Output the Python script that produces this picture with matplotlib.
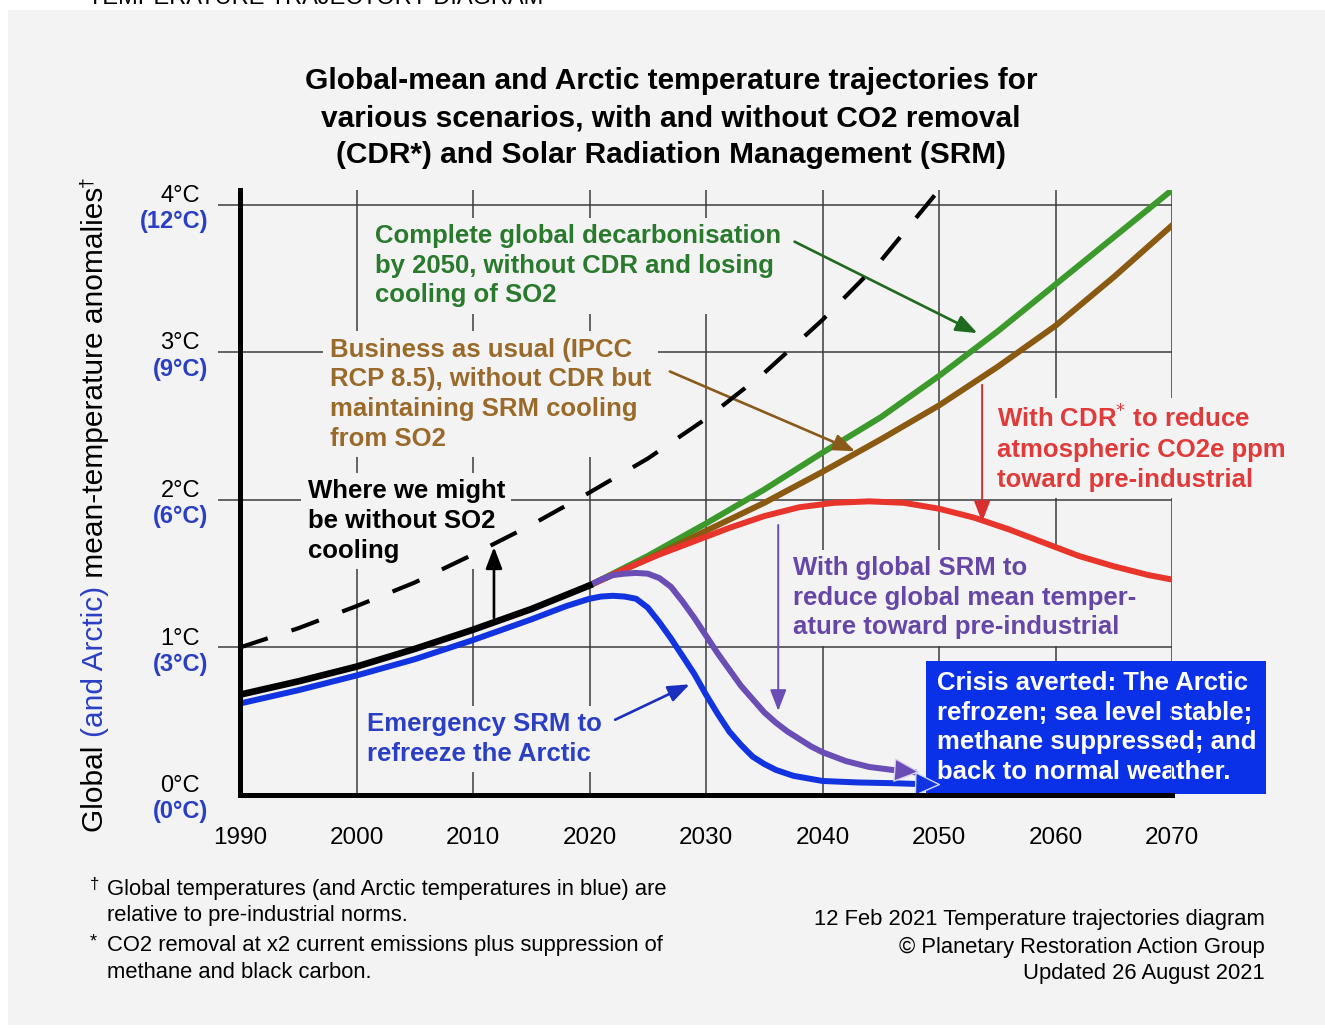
import matplotlib
matplotlib.use('Agg')
import matplotlib.pyplot as plt
from matplotlib.patches import Rectangle

plt.rcParams['font.family'] = ['Liberation Sans', 'DejaVu Sans']

# Data
hist_years = [1990, 1995, 2000, 2005, 2010, 2015, 2020]
hist_temp = [0.68, 0.77, 0.87, 0.99, 1.12, 1.26, 1.42]

noso2_years = [1990, 1995, 2000, 2005, 2010, 2015, 2020, 2025, 2030, 2035, 2040, 2045, 2050]
noso2_temp = [1.0, 1.13, 1.28, 1.44, 1.63, 1.83, 2.05, 2.28, 2.55, 2.86, 3.22, 3.62, 4.1]

proj_years = [2020, 2025, 2030, 2035, 2040, 2045, 2050, 2055, 2060, 2065, 2070]
decarb_temp = [1.42, 1.62, 1.84, 2.07, 2.32, 2.56, 2.84, 3.14, 3.46, 3.78, 4.1]
bau_temp = [1.42, 1.6, 1.79, 1.98, 2.19, 2.41, 2.64, 2.9, 3.18, 3.51, 3.86]

cdr_years = [2020, 2023, 2026, 2029, 2032, 2035, 2038, 2041, 2044, 2047, 2050,
             2053, 2056, 2059, 2062, 2065, 2068, 2070]
cdr_temp = [1.42, 1.53, 1.63, 1.72, 1.81, 1.89, 1.95, 1.98, 1.99, 1.98, 1.94,
            1.88, 1.80, 1.71, 1.62, 1.55, 1.49, 1.46]

srm_years = [2020, 2021, 2022, 2023, 2024, 2025, 2026, 2027, 2028, 2029, 2030,
             2031, 2032, 2033, 2034, 2035, 2036, 2037, 2038, 2039, 2040, 2042,
             2044, 2046, 2047.8]
srm_temp = [1.42, 1.46, 1.49, 1.50, 1.505, 1.50, 1.47, 1.41, 1.31, 1.20, 1.08,
            0.96, 0.85, 0.74, 0.65, 0.56, 0.49, 0.43, 0.38, 0.33, 0.29, 0.23,
            0.19, 0.17, 0.155]

arctic_years = [1990, 1995, 2000, 2005, 2010, 2015, 2018, 2020, 2021, 2022, 2023,
                2024, 2025, 2026, 2027, 2028, 2029, 2030, 2031, 2032, 2033, 2034,
                2035, 2036, 2037.5, 2040, 2043, 2046, 2048, 2049.6]
arctic_temp = [0.62, 0.71, 0.81, 0.92, 1.05, 1.19, 1.28, 1.33, 1.345, 1.35, 1.345,
               1.33, 1.27, 1.17, 1.06, 0.94, 0.82, 0.68, 0.55, 0.43, 0.34, 0.26,
               0.21, 0.17, 0.13, 0.095, 0.085, 0.08, 0.075, 0.07]

x_ticks = [1990, 2000, 2010, 2020, 2030, 2040, 2050, 2060, 2070]
y_ticks = [0, 1, 2, 3, 4]
global_labels = ['0°C', '1°C', '2°C', '3°C', '4°C']
arctic_labels = ['(0°C)', '(3°C)', '(6°C)', '(9°C)', '(12°C)']

BG = '#f3f3f3'
BLUE_T = '#2a3fc4'

fig = plt.figure(figsize=(13.25, 10.28), dpi=100)
fig.patch.set_facecolor('white')
fig.patches.append(Rectangle((8 / 1325, 3 / 1028), 1317 / 1325, 1015 / 1028,
                             transform=fig.transFigure, facecolor=BG,
                             edgecolor='none', zorder=-10))

# header cut off at the top of the image
fig.text(88 / 1325, 1 - 4 / 1028, 'TEMPERATURE TRAJECTORY DIAGRAM', ha='left',
         va='baseline', fontsize=17, color='black')

ax = fig.add_axes([240 / 1325, 233 / 1028, 932 / 1325, 605 / 1028])
ax.set_facecolor('none')
ax.set_xlim(1990, 2070)
ax.set_ylim(0, 4.1)

for s in ['top', 'right']:
    ax.spines[s].set_visible(False)
for s in ['left', 'bottom']:
    ax.spines[s].set_linewidth(3.6)
    ax.spines[s].set_zorder(6)

ax.set_xticks(x_ticks)
ax.set_xticklabels([str(y) for y in x_ticks], fontsize=17.5)
ax.tick_params(axis='x', length=0, pad=23)
ax.set_yticks([])

# grid
ax.hlines(y_ticks[1:], -0.024, 1, transform=ax.get_yaxis_transform(),
          colors='#3c3c3c', lw=1.1, clip_on=False, zorder=1)
ax.vlines(x_ticks[1:-1], 0, 4.1, colors='#3c3c3c', lw=1.1, zorder=1)
ax.vlines([x_ticks[-1]], 0, 4.1, colors='#3c3c3c', lw=1.1, zorder=2.6)

# y labels
for v, g, a in zip(y_ticks, global_labels, arctic_labels):
    ax.text(-0.043, v + 0.06, g, transform=ax.get_yaxis_transform(), ha='right',
            va='center', fontsize=17)
    ax.text(-0.034, v - 0.115, a, transform=ax.get_yaxis_transform(), ha='right',
            va='center', fontsize=17, fontweight='bold', color=BLUE_T)

# curves
ax.plot(noso2_years, noso2_temp, color='black', lw=3, ls=(0, (7, 6)), zorder=5,
        solid_capstyle='butt')
ax.plot(proj_years, decarb_temp, color='#3c9a2c', lw=4.3, zorder=4)
ax.plot(proj_years, bau_temp, color='#8b5a12', lw=4.3, zorder=4)
ax.plot(cdr_years, cdr_temp, color='#e8352b', lw=4.3, zorder=4)
ax.plot(srm_years, srm_temp, color='#6a4db5', lw=4.3, zorder=4, solid_joinstyle='round')
ax.plot(arctic_years, arctic_temp, color='#1133e0', lw=4.3, zorder=4, solid_joinstyle='round')
ax.plot(hist_years, hist_temp, color='black', lw=4.8, zorder=4.5)

# arrow heads at the end of the SRM curves
ax.annotate('', xy=(srm_years[-1] + 0.8, srm_temp[-1]), xytext=(srm_years[-2], srm_temp[-2]),
            arrowprops=dict(arrowstyle='-|>,head_length=1.7,head_width=0.8',
                            fc='#6a4db5', ec='#d8d2f0', lw=1.0), zorder=4.6)
ax.annotate('', xy=(arctic_years[-1] + 0.8, arctic_temp[-1]), xytext=(arctic_years[-2], arctic_temp[-2]),
            arrowprops=dict(arrowstyle='-|>,head_length=1.7,head_width=0.8',
                            fc='#1133e0', ec='#d0d8ff', lw=1.0), zorder=4.6)

# annotations
box = dict(boxstyle='square,pad=0.25', facecolor=BG, edgecolor='none')
kw = dict(fontsize=18.5, fontweight='bold', ha='left', va='top', linespacing=1.3,
          zorder=3, bbox=box)
ax.text(2001.6, 3.87, 'Complete global decarbonisation\nby 2050, without CDR and losing\ncooling of SO2',
        color='#2a7a2e', **kw)
ax.text(1997.7, 3.10, 'Business as usual (IPCC\nRCP 8.5), without CDR but\nmaintaining SRM cooling\nfrom SO2',
        color='#9a6a2a', **kw)
ax.text(1995.8, 2.14, 'Where we might\nbe without SO2\ncooling', color='black', **kw)
ax.text(2055.0, 2.65, 'With CDR$^{*}$ to reduce\natmospheric CO2e ppm\ntoward pre-industrial',
        color='#e03a3a', **kw)
ax.text(2037.5, 1.62, 'With global SRM to\nreduce global mean temper-\nature toward pre-industrial',
        color='#6647a8', **kw)
ax.text(2000.9, 0.56, 'Emergency SRM to\nrefreeze the Arctic', color=BLUE_T, **kw)
ax.text(2049.8, 0.84, 'Crisis averted: The Arctic\nrefrozen; sea level stable;\nmethane suppressed; and\nback to normal weather.',
        color='white', fontsize=18.5, fontweight='bold', ha='left', va='top',
        linespacing=1.3, zorder=2.5,
        bbox=dict(boxstyle='square,pad=0.4', facecolor='#0a30e8', edgecolor='none'))

def arrow(x0, y0, x1, y1, color, lw=1.9):
    ax.annotate('', xy=(x1, y1), xytext=(x0, y0), zorder=4.2,
                arrowprops=dict(arrowstyle='-|>,head_length=1.3,head_width=0.5',
                                color=color, lw=lw, shrinkA=0, shrinkB=0))

arrow(2037.6, 3.75, 2053.3, 3.13, '#1e6a1e')
arrow(2026.9, 2.87, 2042.8, 2.33, '#8a5a1a')
arrow(2011.8, 1.2, 2011.8, 1.68, 'black')
arrow(2053.7, 2.78, 2053.7, 1.85, '#d83030', lw=1.4)
arrow(2036.2, 1.83, 2036.2, 0.57, '#6a4db5', lw=1.4)
arrow(2022.2, 0.51, 2028.6, 0.75, '#1a2fc0')

# title
fig.text(671 / 1325, 1 - 67 / 1028,
         'Global-mean and Arctic temperature trajectories for\n'
         'various scenarios, with and without CO2 removal\n'
         '(CDR*) and Solar Radiation Management (SRM)',
         ha='center', va='top', fontsize=21.5, fontweight='bold', linespacing=1.42)

# multi-coloured y axis label
fig.canvas.draw()
rend = fig.canvas.get_renderer()
ypos = 1028 - 832
for s, c in [('Global ', 'black'), ('(and Arctic)', BLUE_T),
             (' mean-temperature anomalies', 'black')]:
    t = fig.text(95 / 1325, ypos / 1028, s, rotation=90, ha='center', va='bottom',
                 fontsize=21.5, color=c)
    ypos += t.get_window_extent(rend).height
fig.text(87 / 1325, ypos / 1028, '†', rotation=90, ha='center', va='bottom', fontsize=14)

# footnotes
fn = dict(fontsize=15.8, ha='left', va='center')
fig.text(90 / 1325, 1 - 885 / 1028, '†', fontsize=12, ha='left', va='center')
fig.text(107 / 1325, 1 - 889 / 1028, 'Global temperatures (and Arctic temperatures in blue) are', **fn)
fig.text(107 / 1325, 1 - 916 / 1028, 'relative to pre-industrial norms.', **fn)
fig.text(90 / 1325, 1 - 942 / 1028, '*', fontsize=13, ha='left', va='center')
fig.text(107 / 1325, 1 - 946 / 1028, 'CO2 removal at x2 current emissions plus suppression of', **fn)
fig.text(107 / 1325, 1 - 973 / 1028, 'methane and black carbon.', **fn)

rt = dict(fontsize=15.8, ha='right', va='center')
fig.text(1265 / 1325, 1 - 920 / 1028, '12 Feb 2021 Temperature trajectories diagram', **rt)
fig.text(1265 / 1325, 1 - 947 / 1028, '© Planetary Restoration Action Group', **rt)
fig.text(1265 / 1325, 1 - 973 / 1028, 'Updated 26 August 2021', **rt)

fig.savefig('out.png', dpi=100, facecolor=fig.get_facecolor())
